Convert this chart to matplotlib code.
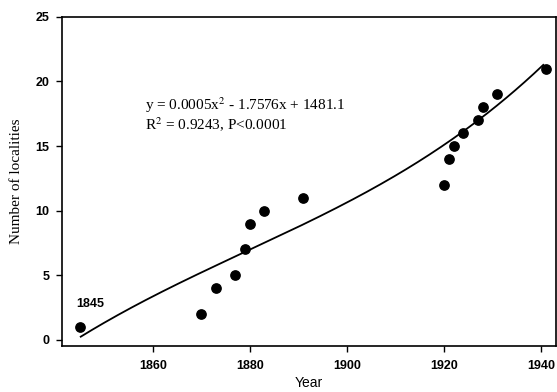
import numpy as np
import matplotlib
matplotlib.use('Agg')
import matplotlib.pyplot as plt

# cumulative number of localities by year
years = [1845, 1870, 1873, 1877, 1879, 1880, 1883, 1891,
         1920, 1921, 1922, 1924, 1927, 1928, 1931, 1941]
counts = [1, 2, 4, 5, 7, 9, 10, 11,
          12, 14, 15, 16, 17, 18, 19, 21]
# regression curve
fit_years = [1845.1, 1865.4, 1873.8, 1884.1, 1904.7, 1921.2, 1940.5]
fit_values = [0.26, 4.4, 5.8, 7.8, 11.6, 15.35, 21.3]
xticks = [1860, 1880, 1900, 1920, 1940]
yticks = [0, 5, 10, 15, 20, 25]


def main():
    fig = plt.figure(figsize=(5.57, 3.92), dpi=100)
    ax = fig.add_axes([0.111, 0.118, 0.887, 0.839])

    coef = np.polyfit(fit_years, fit_values, 3)
    xs = np.linspace(fit_years[0], fit_years[-1], 200)
    ax.plot(xs, np.polyval(coef, xs), color='black', lw=1.3)
    ax.scatter(years, counts, s=45, color='black', zorder=3)

    ax.set_xlim(1841.2, 1943.1)
    ax.set_ylim(-0.45, 25)
    ax.set_xticks(xticks)
    ax.set_yticks(yticks)
    for lab in ax.get_xticklabels() + ax.get_yticklabels():
        lab.set_family('Liberation Sans')
        lab.set_weight('bold')
        lab.set_fontsize(9)
    ax.tick_params(axis='x', direction='out', length=4, width=1, pad=6)
    ax.tick_params(axis='y', direction='out', length=4, width=1, pad=5)
    for sp in ax.spines.values():
        sp.set_linewidth(1.2)

    ax.set_xlabel('Year', family='Liberation Sans', fontsize=10, labelpad=3)
    ax.set_ylabel('Number of localities', family='Liberation Serif', fontsize=11, labelpad=9)

    ax.text(1858.4, 17.8, 'y = 0.0005x$^2$ - 1.7576x + 1481.1',
            family='Liberation Serif', fontsize=11, math_fontfamily='stix')
    ax.text(1858.4, 16.2, 'R$^2$ = 0.9243, P<0.0001',
            family='Liberation Serif', fontsize=11, math_fontfamily='stix')
    ax.text(1847, 2.55, '1845', family='Liberation Sans', fontweight='bold',
            fontsize=9, ha='center')

    plt.savefig('out.png', dpi=100)


main()
